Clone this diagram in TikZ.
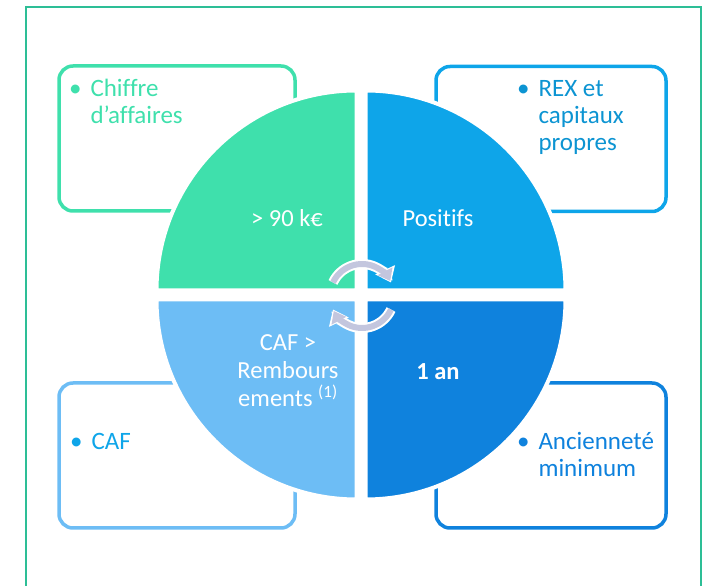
\documentclass[tikz,border=0pt]{standalone}
\usepackage{fontspec}
\setmainfont{Carlito}[Ligatures=NoCommon]
\usetikzlibrary{arrows.meta}

\definecolor{framegreen}{HTML}{2DBE96}
\definecolor{mint}{HTML}{3FE0AC}
\definecolor{sky}{HTML}{0EA5E9}
\definecolor{pale}{HTML}{6DBDF5}
\definecolor{deep}{HTML}{0F82DD}
\definecolor{lilac}{HTML}{C3C6DE}

\tikzset{
  critbox/.style={draw=#1, line width=3.5pt, rounded corners=14pt, minimum height=145pt, inner sep=0pt},
  crit/.style={text=#1, anchor=base west, align=left, font=\fontsize{25}{27}\selectfont},
  quart/.style={text=white, anchor=base, align=center, font=\fontsize{24.5}{28}\selectfont},
  cycle/.style={line width=6pt, draw=lilac, -{Triangle[length=11pt,width=16pt]}},
  cyclebg/.style={line width=10pt, draw=white, -{Triangle[length=14pt,width=21pt]}},
}
\newcommand{\bul}{\llap{•\hspace{9pt}}}

\begin{document}
\begin{tikzpicture}[x=1pt,y=1pt]
  \useasboundingbox (0,0) rectangle (705,586);
  \draw[framegreen, line width=2pt] (26,579) rectangle (701,-20);

  \node[critbox=mint, minimum width=236pt] (boxCA) at (177,447.5) {};
  \node[critbox=sky, minimum width=230pt] (boxREX) at (551,447) {};
  \node[critbox=pale, minimum width=236pt] (boxCAF) at (177,130.5) {};
  \node[critbox=deep, minimum width=230pt] (boxAge) at (551,130.5) {};

  \foreach \col/\sx/\sy/\from in {mint/-1/1/90, sky/1/1/0, pale/-1/-1/180, deep/1/-1/270}
    \filldraw[fill=\col, draw=white, line width=4pt]
      (361+4.5*\sx,291+4.5*\sy) -- ++(\from:200) arc (\from:\from+90:200) -- cycle;

  \node[crit=mint] (ca) at (87,462) {\bul Chiffre\\d’affaires};
  \node[crit=sky!90!black] (rex) at (535,435) {\bul REX et\\capitaux\\propres};
  \node[crit=sky] (caf) at (88,136) {\bul CAF};
  \node[crit=deep] (age) at (535,109) {\bul Ancienneté\\minimum};

  \node[quart] (seuil) at (287,359) {> 90 k€};
  \node[quart] (pos) at (438,359) {Positifs};
  \node[quart] (remb) at (288,179) {CAF >\\Rembours\\ements \textsuperscript{(1)}};
  \node[quart, font=\fontsize{24.5}{28}\selectfont\bfseries] (duree) at (438,206) {1 an};

  \coordinate (mid) at (362,290);
  \draw[cyclebg] ([shift={(155:32)}]mid) arc (155:25:32);
  \draw[cyclebg] ([shift={(-25:32)}]mid) arc (-25:-155:32);
  \draw[cycle] ([shift={(155:32)}]mid) arc (155:28:32);
  \draw[cycle] ([shift={(-25:32)}]mid) arc (-25:-152:32);
\end{tikzpicture}
\end{document}
